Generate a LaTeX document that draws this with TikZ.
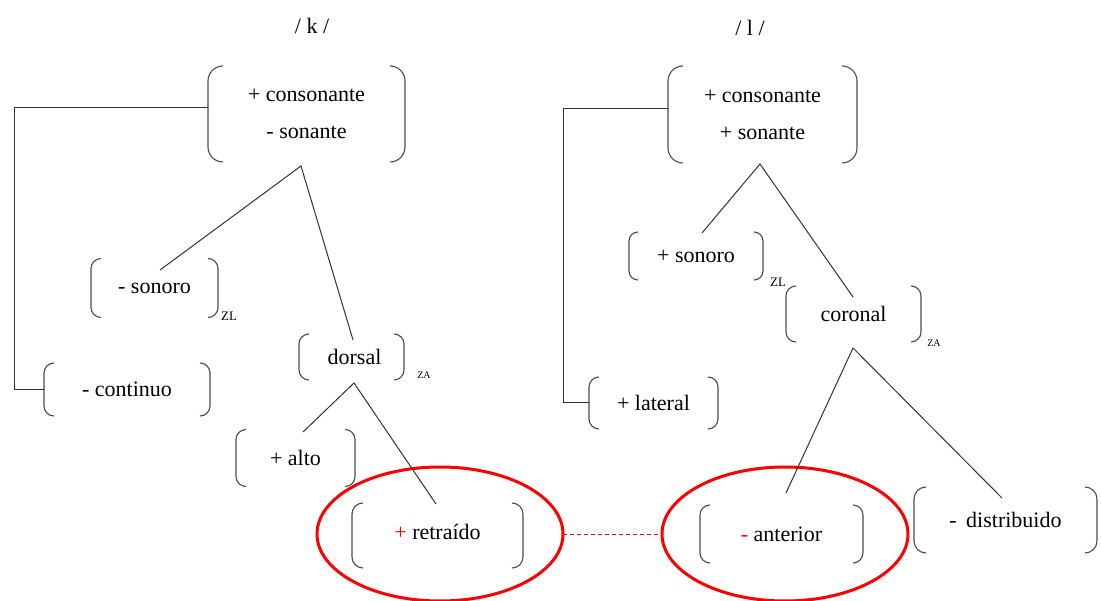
\documentclass[tikz,border=0pt]{standalone}
\usepackage{fontspec}
\setmainfont{Liberation Serif}
\newfontfamily\tms{Liberation Serif}
\usetikzlibrary{calc,shapes.geometric}
\newcommand\fbrk[2]{%
  \draw[brk,rounded corners=#2pt] ($(#1.north west)+(#2,0)$) -- (#1.north west) -- (#1.south west) -- ($(#1.south west)+(#2,0)$);
  \draw[brk,rounded corners=#2pt] ($(#1.north east)+(-#2,0)$) -- (#1.north east) -- (#1.south east) -- ($(#1.south east)+(-#2,0)$);}
\begin{document}
\begin{tikzpicture}[x=1pt,y=-1pt,
  feat/.style={inner sep=0pt,outer sep=0pt,align=center,font=\tms\fontsize{22}{37}\selectfont},
  brk/.style={draw=black!70,line width=1.1pt},
  conn/.style={draw=black!80,line width=1pt},
  ell/.style={ellipse,draw=red,line width=3pt,inner sep=0pt,outer sep=0pt,minimum width=246pt,minimum height=134pt},
  zl/.style={inner sep=0pt,font=\tms\fontsize{13}{13}\selectfont},
  za/.style={inner sep=0pt,font=\tms\fontsize{10}{10}\selectfont}]
\useasboundingbox (0,0) rectangle (1101,601);
\fill[white] (0,0) rectangle (1101,601);

% ellipses
\node[ell] (e1) at (440,534) {};
\node[ell] (e2) at (785,534) {};
\draw[red,line width=0.9pt,dash pattern=on 4pt off 3pt] (e1.east) -- (e2.west);

% titles
\node[feat] (titK) at (312,26) {/ k /};
\node[feat] (titL) at (750,28) {/ l /};

% left tree
\node[feat,minimum width=197pt,minimum height=96pt] (consK) at (306.5,114) {+ consonante\\- sonante};
\node[feat,minimum width=127pt,minimum height=59pt] (sonK) at (154.5,288) {- sonoro};
\node[feat,minimum width=105pt,minimum height=46pt] (dorK) at (351.5,357) {\hspace*{6pt}dorsal};
\node[feat,minimum width=166pt,minimum height=53pt] (conK) at (127,389.5) {- continuo};
\node[feat,minimum width=119pt,minimum height=57pt] (altK) at (295.5,458) {+ alto};
\node[feat,minimum width=171pt,minimum height=65pt] (retK) at (437.5,535.5) {\raisebox{8pt}{\textcolor{red}{+} retraído}};
\node[zl] (zlK) at (229,316) {ZL};
\node[za] (zaK) at (424,375) {ZA};

% right tree
\node[feat,minimum width=189pt,minimum height=97pt] (consL) at (762.5,114.5) {+ consonante\\+ sonante};
\node[feat,minimum width=134pt,minimum height=48pt] (sonL) at (696,256) {+ sonoro};
\node[feat,minimum width=135pt,minimum height=56pt] (corL) at (853.5,314) {coronal};
\node[feat,minimum width=129pt,minimum height=52pt] (latL) at (653.5,403) {+ lateral};
\node[feat,minimum width=163pt,minimum height=58pt] (antL) at (781.5,534) {\textcolor{red}{-} anterior};
\node[feat,minimum width=183pt,minimum height=66pt] (disL) at (1005.5,520) {\raisebox{-3pt}{-\hspace{4pt} distribuido}};
\node[zl] (zlL) at (778,282) {ZL};
\node[za] (zaL) at (934,343) {ZA};

% brackets
\fbrk{consK}{15}
\fbrk{sonK}{10}
\fbrk{dorK}{10}
\fbrk{conK}{10}
\fbrk{altK}{10}
\fbrk{retK}{11}
\fbrk{consL}{15}
\fbrk{sonL}{9}
\fbrk{corL}{10}
\fbrk{latL}{10}
\fbrk{antL}{10}
\fbrk{disL}{12}

% branching points and connector ends
\coordinate (apK) at (301,166);
\coordinate (apKd) at (354,383);
\coordinate (apL) at (760,164);
\coordinate (apLc) at (853,348);
\coordinate (sonKt) at (160,270);
\coordinate (dorKt) at (353,340);
\coordinate (altKt) at (303,432);
\coordinate (retKt) at (436,504);
\coordinate (sonLt) at (702,233);
\coordinate (corLt) at (853,297);
\coordinate (antLt) at (786,493);
\coordinate (disLt) at (1002,498);

\draw[conn] (sonKt) -- (apK) -- (dorKt);
\draw[conn] (altKt) -- (apKd) -- (retKt);
\draw[conn] (sonLt) -- (apL) -- (corLt);
\draw[conn] (antLt) -- (apLc) -- (disLt);
\draw[conn] ($(consK.west)+(0,-6)$) -- ++(-194,0) |- (conK.west);
\draw[conn] ($(consL.west)+(0,-5.5)$) -- ++(-105,0) |- (latL.west);
\end{tikzpicture}
\end{document}
